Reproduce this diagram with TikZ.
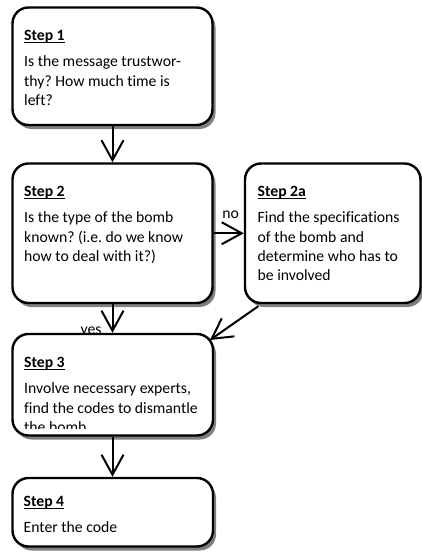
\documentclass[tikz,border=0pt]{standalone}
\usepackage{fontspec}
\setmainfont[Ligatures=NoCommon]{Carlito}
\frenchspacing
\usetikzlibrary{arrows.meta,calc}
\newcommand{\steptitle}[1]{\strut\setbox0\hbox{\textbf{#1}}\rlap{\rule[-2.4pt]{\wd0}{1.2pt}}\box0}

\begin{document}
\begin{tikzpicture}[x=1pt,y=-1pt]
        \tikzstyle{stepbox}=[draw, line width=2.4pt, rounded corners=16pt, fill=white, inner sep=0pt,
        preaction={fill=black!50, transform canvas={shift={(3pt,-4pt)}}}]
        \tikzstyle{steptext}=[anchor=north west, inner sep=0pt, align=left, font=\fontsize{15.7}{19.3}\selectfont]
        \tikzstyle{lbl}=[inner sep=0pt, font=\fontsize{15.7}{19.3}\selectfont]
        \tikzstyle{flow}=[line width=2pt, -{Straight Barb[length=20pt,width=22pt]}]
        \useasboundingbox (0,0) rectangle (422,552);
        \node[stepbox, minimum width=200pt, minimum height=117.5pt] (s1) at (112.5,66.25) {};
        \node[steptext] (t1) at (24,27.2) {\steptitle{Step 1}\\[6.7pt]Is the message trustwor-\\thy? How much time is\\left?};
        \node[stepbox, minimum width=200pt, minimum height=139.5pt] (s2) at (112.5,233.25) {};
        \node[steptext] (t2) at (24,183) {\steptitle{Step 2}\\[6.7pt]Is the type of the bomb\\known? (i.e. do we know\\how to deal with it?)};
        \node[stepbox, minimum width=175.5pt, minimum height=139.5pt] (s2a) at (332.75,233.25) {};
        \node[steptext] (t2a) at (257.5,183) {\steptitle{Step 2a}\\[6.7pt]Find the specifications\\of the bomb and\\determine who has to\\be involved};
        \node[lbl, anchor=base east] (yes) at (101.7,334.5) {yes};
        \node[stepbox, minimum width=200.5pt, minimum height=101.5pt] (s3) at (112.75,384.75) {};
        \begin{scope}
          \clip (12,330) rectangle (214,428);
          \node[steptext] (t3) at (24,354) {\steptitle{Step 3}\\[6.7pt]Involve necessary experts,\\find the codes to dismantle\\the bomb};
        \end{scope}
        \node[stepbox, minimum width=200.5pt, minimum height=68.5pt] (s4) at (112.75,512.25) {};
        \node[steptext] (t4) at (23.5,493.2) {\steptitle{Step 4}\\[6.7pt]Enter the code};
        % connectors
        \draw[flow] (s1.south) -- (s2.north);
        \draw[flow] (s2.east) -- node[lbl, above=14pt, xshift=2pt] (no) {no} (s2a.west);
        \draw[flow] (s2.south) -- (s2.south |- s3.north);
        \draw[flow] ($(s2a.south west)+(14.5,2)$) -- ($(s3.north east)+(-4.2,7.2)$);
        \draw[flow] (s3.south -| s2.south) -- (s2.south |- s4.north);
\end{tikzpicture}
\end{document}
